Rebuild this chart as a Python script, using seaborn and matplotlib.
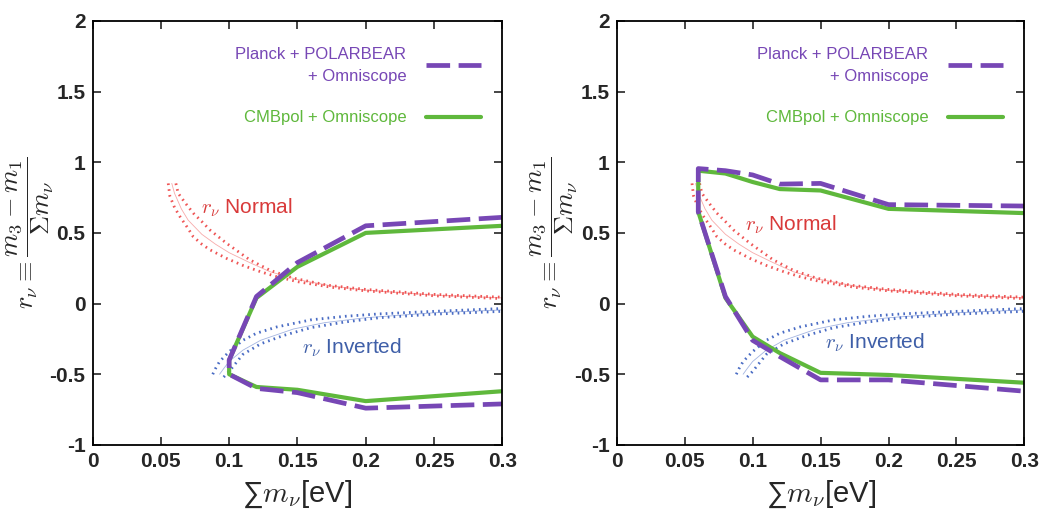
import matplotlib
matplotlib.use("Agg")
import matplotlib.pyplot as plt
import seaborn as sns

# r_nu bands (same curves in both panels)
normal_lo_x = [0.0554, 0.0566, 0.060, 0.064, 0.070, 0.0737, 0.080, 0.086, 0.098, 0.110, 0.123, 0.135, 0.150, 0.175, 0.200, 0.250, 0.300]
normal_lo_y = [0.85, 0.76, 0.68, 0.615, 0.53, 0.473, 0.42, 0.38, 0.32, 0.27, 0.225, 0.19, 0.155, 0.115, 0.09, 0.055, 0.035]
normal_mid_x = [0.058, 0.060, 0.065, 0.070, 0.080, 0.090, 0.100, 0.115, 0.130, 0.150, 0.175, 0.200, 0.250, 0.300]
normal_mid_y = [0.85, 0.78, 0.67, 0.59, 0.49, 0.42, 0.36, 0.29, 0.225, 0.17, 0.125, 0.095, 0.06, 0.04]
normal_hi_x = [0.061, 0.0627, 0.068, 0.0737, 0.080, 0.086, 0.098, 0.115, 0.130, 0.147, 0.172, 0.200, 0.250, 0.300]
normal_hi_y = [0.85, 0.78, 0.71, 0.64, 0.58, 0.52, 0.427, 0.31, 0.235, 0.18, 0.13, 0.10, 0.065, 0.045]

inverted_lo_x = [0.088, 0.090, 0.093, 0.100, 0.110, 0.120, 0.135, 0.160, 0.185, 0.210, 0.250, 0.300]
inverted_lo_y = [-0.50, -0.46, -0.41, -0.34, -0.26, -0.21, -0.165, -0.115, -0.09, -0.073, -0.055, -0.035]
inverted_mid_x = [0.093, 0.096, 0.100, 0.110, 0.123, 0.147, 0.170, 0.200, 0.250, 0.300]
inverted_mid_y = [-0.50, -0.46, -0.41, -0.33, -0.26, -0.18, -0.135, -0.10, -0.065, -0.045]
inverted_hi_x = [0.096, 0.100, 0.105, 0.110, 0.123, 0.140, 0.160, 0.185, 0.210, 0.250, 0.300]
inverted_hi_y = [-0.52, -0.48, -0.42, -0.36, -0.285, -0.225, -0.17, -0.13, -0.10, -0.075, -0.055]

# forecast contours, left panel
left_green_x = [0.30, 0.20, 0.15, 0.12, 0.10, 0.10, 0.12, 0.15, 0.20, 0.30]
left_green_y = [0.55, 0.50, 0.26, 0.04, -0.40, -0.50, -0.59, -0.61, -0.69, -0.62]
left_purple_x = [0.30, 0.20, 0.15, 0.12, 0.10, 0.10, 0.12, 0.15, 0.20, 0.30]
left_purple_y = [0.61, 0.55, 0.29, 0.05, -0.40, -0.50, -0.60, -0.63, -0.74, -0.71]

# forecast contours, right panel
right_green_x = [0.30, 0.20, 0.15, 0.12, 0.10, 0.08, 0.06, 0.06, 0.08, 0.10, 0.12, 0.15, 0.20, 0.30]
right_green_y = [0.64, 0.67, 0.80, 0.81, 0.86, 0.92, 0.94, 0.65, 0.04, -0.234, -0.35, -0.49, -0.505, -0.56]
right_purple_x = [0.30, 0.20, 0.15, 0.12, 0.10, 0.08, 0.06, 0.06, 0.08, 0.10, 0.12, 0.15, 0.20, 0.30]
right_purple_y = [0.69, 0.70, 0.85, 0.845, 0.91, 0.94, 0.955, 0.65, 0.05, -0.26, -0.375, -0.54, -0.54, -0.62]

xticks = [0, 0.05, 0.1, 0.15, 0.2, 0.25, 0.3]
xtick_labels = ['0', '0.05', '0.1', '0.15', '0.2', '0.25', '0.3']
yticks = [-1, -0.5, 0, 0.5, 1, 1.5, 2]
ytick_labels = ['-1', '-0.5', '0', '0.5', '1', '1.5', '2']

PURPLE = '#7747b5'
GREEN = '#5fb83c'
RED = '#ef5656'
BLUE = '#4a6cc4'

sns.set_style("ticks")
plt.rcParams['font.family'] = ['Liberation Sans', 'DejaVu Sans']
plt.rcParams['mathtext.fontset'] = 'cm'
plt.rcParams['axes.unicode_minus'] = False


def draw_band(ax, lo_x, lo_y, mid_x, mid_y, hi_x, hi_y, color):
    for bx, by in [(lo_x, lo_y), (hi_x, hi_y)]:
        sns.lineplot(x=bx, y=by, ax=ax, color=color, lw=2.0, sort=False,
                     estimator=None, linestyle=(0, (0.6, 1.5)))
    sns.lineplot(x=mid_x, y=mid_y, ax=ax, color=color, lw=0.6, alpha=0.5,
                 sort=False, estimator=None)


def draw_panel(ax, gx, gy, px, py, normal_xy, inverted_xy):
    draw_band(ax, normal_lo_x, normal_lo_y, normal_mid_x, normal_mid_y,
              normal_hi_x, normal_hi_y, RED)
    draw_band(ax, inverted_lo_x, inverted_lo_y, inverted_mid_x, inverted_mid_y,
              inverted_hi_x, inverted_hi_y, BLUE)

    sns.lineplot(x=gx, y=gy, ax=ax, color=GREEN, lw=3.0, sort=False,
                 estimator=None, label='CMBpol + Omniscope')
    sns.lineplot(x=px, y=py, ax=ax, color=PURPLE, lw=3.4, sort=False,
                 estimator=None, linestyle=(0, (5, 1.8)),
                 label='Planck + POLARBEAR\n+ Omniscope')

    ax.text(*normal_xy, r'$r_\nu$ Normal', color='#d93a3a', fontsize=15,
            ha='center', va='center')
    ax.text(*inverted_xy, r'$r_\nu$ Inverted', color='#3f5fa8', fontsize=15,
            ha='center', va='center')

    handles, labels = ax.get_legend_handles_labels()
    order = [labels.index('Planck + POLARBEAR\n+ Omniscope'),
             labels.index('CMBpol + Omniscope')]
    leg = ax.legend([handles[i] for i in order], [labels[i] for i in order],
                    loc='upper right', bbox_to_anchor=(0.965, 0.955),
                    frameon=False, markerfirst=False, handlelength=3.3,
                    handletextpad=1.2, labelspacing=1.6, fontsize=12,
                    labelcolor='linecolor', borderaxespad=0)
    for t in leg.get_texts():
        t.set_multialignment('right')
        t.set_linespacing(1.6)

    ax.set_xlim(0, 0.3)
    ax.set_ylim(-1, 2)
    ax.set_xticks(xticks)
    ax.set_xticklabels(xtick_labels)
    ax.set_yticks(yticks)
    ax.set_yticklabels(ytick_labels)
    ax.tick_params(direction='in', length=6, width=1.2, top=True, right=True,
                   labelsize=15, pad=5)
    for lab in ax.get_xticklabels() + ax.get_yticklabels():
        lab.set_fontweight('bold')
    for sp in ax.spines.values():
        sp.set_linewidth(1.3)
        sp.set_color('black')
    ax.set_xlabel('\u2211' + r'$m_\nu$[eV]', fontsize=21, labelpad=6)
    ax.set_ylabel(r'$r_\nu \equiv \dfrac{m_3 - m_1}{\Sigma m_\nu}$',
                  fontsize=19)
    ax.yaxis.set_label_coords(-0.09, 0.5)


fig = plt.figure(figsize=(10.4, 5.21), dpi=100)
ax1 = fig.add_axes([0.089, 0.146, 0.394, 0.814])
ax2 = fig.add_axes([0.593, 0.146, 0.392, 0.814])

draw_panel(ax1, left_green_x, left_green_y, left_purple_x, left_purple_y,
           (0.113, 0.675), (0.19, -0.31))
draw_panel(ax2, right_green_x, right_green_y, right_purple_x, right_purple_y,
           (0.128, 0.56), (0.19, -0.28))

fig.savefig('out.png', dpi=100)
